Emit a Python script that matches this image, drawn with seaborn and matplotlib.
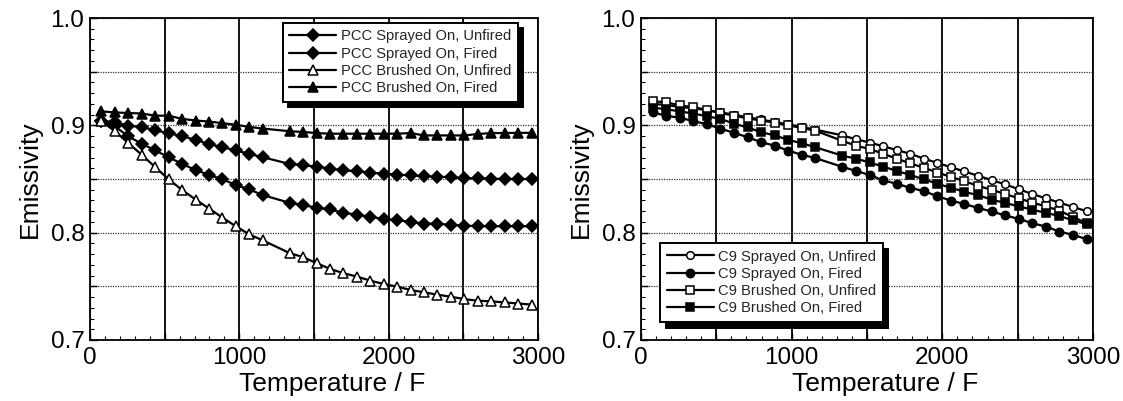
import numpy as np
import pandas as pd
import seaborn as sns
import matplotlib.pyplot as plt
from matplotlib.ticker import MultipleLocator, FuncFormatter

# 温度 (F)，两图共用
temps = [77, 167, 257, 347, 437, 527, 617, 707, 797, 887, 977, 1067, 1157,
         1337, 1427, 1517, 1607, 1697, 1787, 1877, 1967, 2057, 2147, 2237,
         2327, 2417, 2507, 2597, 2687, 2777, 2867, 2957]

# 左图 PCC
pcc_spray_unfired = [0.904, 0.903, 0.8997, 0.8984, 0.8953, 0.8928, 0.8897, 0.8866, 0.8825, 0.8797, 0.8766, 0.8734, 0.8703,
                     0.864, 0.8628, 0.8616, 0.8597, 0.8581, 0.8572, 0.8559, 0.855, 0.854, 0.8534, 0.8525, 0.8522,
                     0.8516, 0.8506, 0.8506, 0.8503, 0.850, 0.850, 0.850]
pcc_spray_fired = [0.904, 0.899, 0.8897, 0.8828, 0.8766, 0.8703, 0.864, 0.8584, 0.8538, 0.8497, 0.8444, 0.8403, 0.835,
                   0.8278, 0.8256, 0.8234, 0.8216, 0.8184, 0.8169, 0.8147, 0.8128, 0.8116, 0.810, 0.8084, 0.8084,
                   0.8072, 0.8066, 0.806, 0.806, 0.806, 0.806, 0.806]
pcc_brush_unfired = [0.904, 0.8944, 0.8834, 0.8725, 0.861, 0.8497, 0.8397, 0.8309, 0.8225, 0.814, 0.8059, 0.7984, 0.7928,
                     0.781, 0.7772, 0.7716, 0.7663, 0.7622, 0.7591, 0.7553, 0.7522, 0.7497, 0.7466, 0.7444, 0.7422,
                     0.7403, 0.7381, 0.7366, 0.736, 0.735, 0.734, 0.733]
pcc_brush_fired = [0.913, 0.912, 0.9115, 0.911, 0.909, 0.909, 0.906, 0.9045, 0.9035, 0.902, 0.9005, 0.8985, 0.897,
                   0.8945, 0.8938, 0.8928, 0.8922, 0.8922, 0.8922, 0.8922, 0.8922, 0.8922, 0.8928, 0.8906, 0.8906,
                   0.8906, 0.8906, 0.8919, 0.8928, 0.8928, 0.893, 0.893]

# 右图 C9
c9_spray_unfired = [0.920, 0.919, 0.917, 0.916, 0.914, 0.912, 0.910, 0.9075, 0.9055, 0.903, 0.901, 0.8985, 0.896,
                    0.8906, 0.887, 0.884, 0.8805, 0.877, 0.8735, 0.869, 0.865, 0.861, 0.857, 0.853, 0.849,
                    0.845, 0.8405, 0.836, 0.832, 0.828, 0.824, 0.820]
c9_spray_fired = [0.912, 0.909, 0.907, 0.904, 0.901, 0.897, 0.893, 0.889, 0.8843, 0.8811, 0.8764, 0.8726, 0.8695,
                  0.8613, 0.8575, 0.8538, 0.8487, 0.8456, 0.8418, 0.8387, 0.834, 0.8299, 0.8267, 0.823, 0.8198,
                  0.816, 0.8129, 0.8088, 0.8057, 0.801, 0.798, 0.794]
c9_brush_unfired = [0.9225, 0.9215, 0.9185, 0.917, 0.9145, 0.9115, 0.909, 0.9065, 0.9045, 0.9025, 0.900, 0.8975, 0.895,
                    0.8855, 0.881, 0.878, 0.8735, 0.869, 0.8645, 0.8605, 0.856, 0.852, 0.848, 0.8435, 0.840,
                    0.836, 0.832, 0.828, 0.8245, 0.8205, 0.8145, 0.809]
c9_brush_fired = [0.9165, 0.915, 0.913, 0.911, 0.9085, 0.906, 0.9016, 0.898, 0.8937, 0.8906, 0.8865, 0.8833, 0.8796,
                  0.8717, 0.869, 0.8654, 0.8616, 0.8575, 0.8538, 0.8497, 0.8456, 0.8418, 0.838, 0.8349, 0.8308,
                  0.8277, 0.8245, 0.8214, 0.8185, 0.8155, 0.8115, 0.808]

sns.set_theme(style='white')
plt.rcParams['font.family'] = ['Liberation Sans', 'DejaVu Sans']

fig = plt.figure(figsize=(11.23, 4.01), dpi=100)
ax1 = fig.add_axes([90 / 1123, 61 / 401, 448 / 1123, 322 / 401])
ax2 = fig.add_axes([641 / 1123, 61 / 401, 452 / 1123, 322 / 401])


def style_axes(ax):
    ax.set_xlim(0, 3000)
    ax.set_ylim(0.7, 1.0)
    ax.xaxis.set_major_locator(MultipleLocator(500))
    ax.xaxis.set_minor_locator(MultipleLocator(100))
    ax.yaxis.set_major_locator(MultipleLocator(0.05))
    ax.yaxis.set_minor_locator(MultipleLocator(0.01))
    ax.xaxis.set_major_formatter(FuncFormatter(lambda v, p: f'{v:.0f}' if round(v) % 1000 == 0 else ''))
    ax.yaxis.set_major_formatter(FuncFormatter(lambda v, p: f'{v:.1f}' if abs(v * 10 - round(v * 10)) < 1e-6 else ''))
    ax.tick_params(which='both', direction='in', bottom=True, left=True, top=False, right=False,
                   color='black', labelsize=17.5, labelcolor='black')
    ax.tick_params(axis='x', pad=5)
    ax.tick_params(axis='y', pad=4)
    ax.tick_params(which='major', length=5, width=1)
    ax.tick_params(which='minor', length=3, width=0.8)
    ax.grid(axis='x', which='major', color='black', lw=1.3, ls='-')
    ax.grid(axis='y', which='major', color='#333333', lw=0.9, ls=(0, (1, 1)))
    ax.set_axisbelow(True)
    for s in ax.spines.values():
        s.set_color('black')
        s.set_linewidth(1.3)
    ax.set_xlabel('Temperature / F', fontsize=19, color='black')
    ax.set_ylabel('Emissivity', fontsize=19, labelpad=6, color='black')
    ax.xaxis.set_label_coords(0.54, -0.1)


def draw(ax, y, marker, filled, label, ms):
    sns.lineplot(x=temps, y=y, ax=ax, color='black', lw=1.6, marker=marker, markersize=ms,
                 markerfacecolor='black' if filled else 'white', markeredgecolor='black',
                 markeredgewidth=1.1, label=label)


draw(ax1, pcc_spray_unfired, 'D', True, 'PCC Sprayed On, Unfired', 6)
draw(ax1, pcc_spray_fired, 'D', True, 'PCC Sprayed On, Fired', 6)
draw(ax1, pcc_brush_unfired, '^', False, 'PCC Brushed On, Unfired', 6.5)
draw(ax1, pcc_brush_fired, '^', True, 'PCC Brushed On, Fired', 7)

draw(ax2, c9_spray_unfired, 'o', False, 'C9 Sprayed On, Unfired', 5.5)
draw(ax2, c9_spray_fired, 'o', True, 'C9 Sprayed On, Fired', 6)
draw(ax2, c9_brush_unfired, 's', False, 'C9 Brushed On, Unfired', 5.5)
draw(ax2, c9_brush_fired, 's', True, 'C9 Brushed On, Fired', 6)

for ax in (ax1, ax2):
    style_axes(ax)

leg_kw = dict(fontsize=10.6, frameon=True, fancybox=False, handlelength=3.2, handletextpad=0.3,
              labelspacing=0.22, borderpad=0.45, borderaxespad=0, numpoints=1,
              shadow={'ox': 4, 'oy': -4, 'color': 'black', 'alpha': 1})
leg1 = ax1.legend(loc='upper right', bbox_to_anchor=(0.955, 0.985), **leg_kw)
leg2 = ax2.legend(loc='lower left', bbox_to_anchor=(0.042, 0.056), **leg_kw)
for leg in (leg1, leg2):
    leg.get_frame().set_edgecolor('black')
    leg.get_frame().set_linewidth(1.4)
    leg.get_frame().set_alpha(1)

fig.savefig('out.png', dpi=100)
